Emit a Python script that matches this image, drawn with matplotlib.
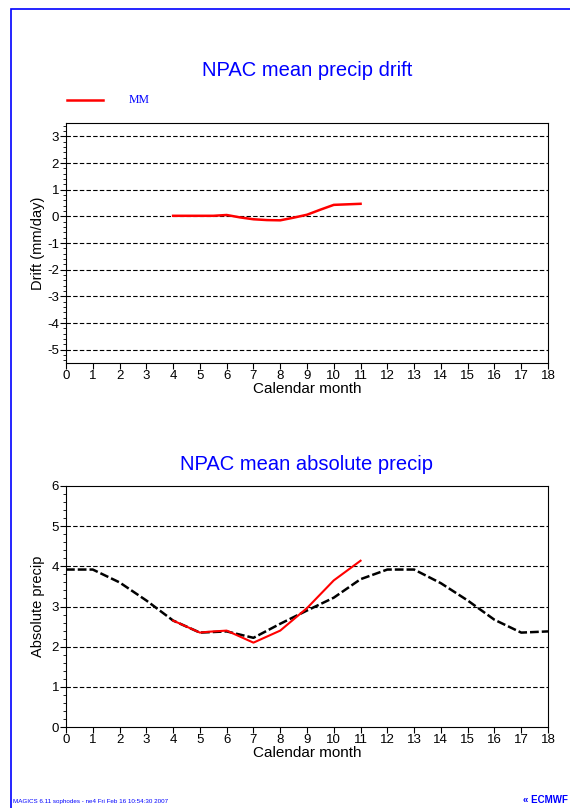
import matplotlib
matplotlib.use("Agg")
from matplotlib import pyplot as plt
from matplotlib.patches import Rectangle
from matplotlib.ticker import MultipleLocator

plt.rcParams["font.family"] = ["Liberation Sans", "DejaVu Sans"]
plt.rcParams["axes.unicode_minus"] = False

# drift of the MM run (mm/day), read at half-month steps
drift_month = [4, 4.5, 5, 5.5, 6, 6.5, 7, 7.5, 8, 8.5, 9, 9.5, 10, 10.5, 11]
drift_mm = [0.02, 0.02, 0.02, 0.02, 0.05, -0.04, -0.11, -0.14, -0.15, -0.05, 0.06, 0.25, 0.43, 0.45, 0.47]

# absolute precip: MM run (red) and climatology (black dashed)
mm_month = [4, 5, 5.3, 6, 7, 8, 9, 10, 11]
mm_precip = [2.65, 2.35, 2.37, 2.4, 2.1, 2.4, 2.96, 3.65, 4.14]
clim_month = list(range(0, 19))
clim_precip = [3.92, 3.92, 3.6, 3.15, 2.65, 2.35, 2.38, 2.22, 2.57, 2.9, 3.22,
               3.68, 3.92, 3.92, 3.58, 3.15, 2.67, 2.35, 2.38]

W, H = 570, 808
fig = plt.figure(figsize=(W / 100, H / 100), dpi=100)

def fx(px):
    return px / W

def fy(py):
    return 1 - py / H

# blue page border (left and top)
fig.patches.append(Rectangle((fx(11), -0.1), 1.2, fy(9) + 0.1, transform=fig.transFigure,
                             fill=False, edgecolor="blue", linewidth=1.2))

def style_axes(ax, ylo, yhi, yticks):
    ax.set_xlim(0, 18)
    ax.set_ylim(ylo, yhi)
    ax.set_xticks(range(0, 19))
    ax.set_yticks(yticks)
    ax.yaxis.set_minor_locator(MultipleLocator(0.2))
    ax.tick_params(axis="both", which="major", direction="out", length=4, width=0.8,
                   labelsize=9.5, pad=1)
    ax.tick_params(axis="y", which="minor", direction="out", length=2, width=0.6)
    for y in yticks:
        ax.axhline(y, color="black", linestyle=(0, (4, 2)), linewidth=0.8, zorder=1)
    for s in ax.spines.values():
        s.set_linewidth(0.8)
    ax.set_xlabel("Calendar month", fontsize=11, labelpad=0)
    ax.yaxis.set_label_coords((45 - 66) / 482, 0.5)

# top panel: drift
ax1 = fig.add_axes([fx(66), fy(363), fx(548) - fx(66), fy(123) - fy(363)])
style_axes(ax1, -5.5, 3.5, range(-5, 4))
ax1.plot(drift_month, drift_mm, color="red", linewidth=1.8, zorder=3)
ax1.set_ylabel("Drift (mm/day)", fontsize=10.5)
fig.text(fx(307), fy(70), "NPAC mean precip drift", color="blue", fontsize=14.5,
         ha="center", va="center")

# legend
fig.add_artist(plt.Line2D([fx(67), fx(103)], [fy(100), fy(100)], color="red",
                          linewidth=1.8, transform=fig.transFigure))
fig.text(fx(129), fy(100), "MM", color="blue", fontsize=8.5, family="Liberation Serif",
         ha="left", va="center")

# bottom panel: absolute precip
ax2 = fig.add_axes([fx(66), fy(727), fx(548) - fx(66), fy(486) - fy(727)])
style_axes(ax2, 0, 6, range(1, 6))
ax2.set_yticks(range(0, 7))
ax2.plot(clim_month, clim_precip, color="black", linewidth=1.8,
         linestyle=(0, (3.5, 1.2)), zorder=2)
ax2.plot(mm_month, mm_precip, color="red", linewidth=1.5, zorder=3)
ax2.set_ylabel("Absolute precip", fontsize=10.5)
fig.text(fx(307), fy(465), "NPAC mean absolute precip", color="blue", fontsize=14.5,
         ha="center", va="center")

# footer
fig.text(fx(13), fy(801), "MAGICS 6.11 sophodes - ne4 Fri Feb 16 10:54:30 2007",
         color="blue", fontsize=4.5, ha="left", va="center")
fig.text(fx(568), fy(800), "\u00ab ECMWF", color="blue", fontsize=7, fontweight="bold",
         ha="right", va="center")

fig.savefig("out.png", dpi=100)
